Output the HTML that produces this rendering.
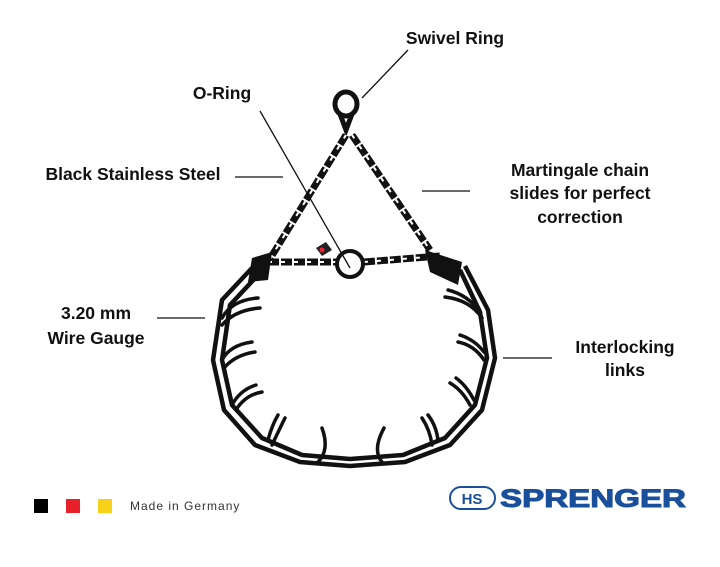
<!DOCTYPE html>
<html><head><style>
body{margin:0;background:#fff;}
svg{display:block}
.l{font-family:"Liberation Sans",sans-serif;font-weight:bold;font-size:17.5px;fill:#111}
</style></head><body>
<svg width="720" height="567" viewBox="0 0 720 567" xmlns="http://www.w3.org/2000/svg">
<text class="l" x="455" y="44" text-anchor="middle">Swivel Ring</text>
<text class="l" x="222" y="99" text-anchor="middle">O-Ring</text>
<text class="l" x="133" y="180" text-anchor="middle">Black Stainless Steel</text>
<text class="l" x="580" y="176" text-anchor="middle">Martingale chain</text>
<text class="l" x="580" y="199" text-anchor="middle">slides for perfect</text>
<text class="l" x="580" y="223" text-anchor="middle">correction</text>
<text class="l" x="96" y="319" text-anchor="middle">3.20 mm</text>
<text class="l" x="96" y="344" text-anchor="middle">Wire Gauge</text>
<text class="l" x="625" y="353" text-anchor="middle">Interlocking</text>
<text class="l" x="625" y="376" text-anchor="middle">links</text>
<g stroke="#111" stroke-width="1.3">
<line x1="408" y1="50" x2="362" y2="98"/>
<line x1="260" y1="111" x2="350" y2="268"/>
<line x1="235" y1="177" x2="283" y2="177"/>
<line x1="422" y1="191" x2="470" y2="191"/>
<line x1="157" y1="318" x2="205" y2="318"/>
<line x1="503" y1="358" x2="552" y2="358"/>
</g>
<ellipse cx="346" cy="104" rx="11" ry="12" fill="none" stroke="#111" stroke-width="5"/>
<path d="M340 114 L346 130 L352 114" fill="none" stroke="#111" stroke-width="5"/>
<g fill="none" stroke="#111" stroke-width="7" stroke-dasharray="11 2">
<path d="M346 135 L268 262"/>
<path d="M352 135 L430 250"/>
<path d="M268 262 L336 262"/>
<path d="M364 262 L440 256"/>
</g>
<g fill="none" stroke="#fff" stroke-width="2" stroke-dasharray="4 9">
<path d="M346 135 L268 262"/>
<path d="M352 135 L430 250"/>
<path d="M268 262 L336 262"/>
<path d="M364 262 L440 256"/>
</g>
<circle cx="350" cy="264" r="13" fill="none" stroke="#111" stroke-width="4"/>
<path d="M316 248 l10 -6 l6 8 l-10 6z" fill="#222"/><circle cx="322" cy="250" r="2.5" fill="#e23"/>
<path d="M252 258 L272 252 L268 280 L248 282z" fill="#111"/>
<path d="M425 250 L462 262 L458 285 L430 272z" fill="#111"/>
<g fill="none" stroke="#111" stroke-width="4.5" stroke-linejoin="round">
<path d="M252 268 L222 300 L213 360 L224 410 L255 445 L300 462 L350 466 L405 462 L450 445 L482 410 L495 358 L488 310 L465 266"/>
<path d="M258 275 L230 305 L222 360 L232 405 L262 438 L302 455 L350 459 L403 455 L445 438 L475 405 L487 358 L480 312 L460 270"/>
</g>
<g fill="none" stroke="#111" stroke-width="3.5" stroke-linecap="round">
<path d="M222 318 Q232 300 258 298"/><path d="M222 325 Q235 310 260 308"/>
<path d="M222 360 Q230 345 252 342"/><path d="M224 368 Q235 355 255 352"/>
<path d="M232 405 Q240 390 256 385"/><path d="M236 410 Q245 395 262 392"/>
<path d="M268 440 Q272 425 278 415"/><path d="M272 445 Q280 428 285 418"/>
<path d="M318 462 Q330 450 322 428"/><path d="M382 462 Q372 450 384 428"/>
<path d="M432 445 Q430 430 422 418"/><path d="M438 440 Q436 425 428 415"/>
<path d="M470 405 Q462 390 450 383"/><path d="M474 400 Q466 385 456 378"/>
<path d="M484 360 Q474 345 458 342"/><path d="M484 352 Q475 340 460 335"/>
<path d="M482 318 Q470 300 445 297"/><path d="M480 312 Q468 295 448 290"/>
</g>
<rect x="34" y="499" width="14" height="14" fill="#000"/>
<rect x="66" y="499" width="14" height="14" fill="#e8202a"/>
<rect x="98" y="499" width="14" height="14" fill="#f7d117"/>
<text x="130" y="510" font-family="Liberation Sans,sans-serif" font-size="12" letter-spacing="1" fill="#333">Made in Germany</text>
<rect x="450" y="487" width="45" height="22" rx="11" fill="none" stroke="#1a4f9c" stroke-width="2"/>
<text x="472" y="504" text-anchor="middle" font-family="Liberation Sans,sans-serif" font-weight="bold" font-size="15" fill="#1a4f9c">HS</text>
<text x="500" y="507" font-family="Liberation Sans,sans-serif" font-weight="bold" font-size="25" fill="#1a4f9c" textLength="186" lengthAdjust="spacingAndGlyphs" stroke="#1a4f9c" stroke-width="1">SPRENGER</text>
</svg>
</body></html>
